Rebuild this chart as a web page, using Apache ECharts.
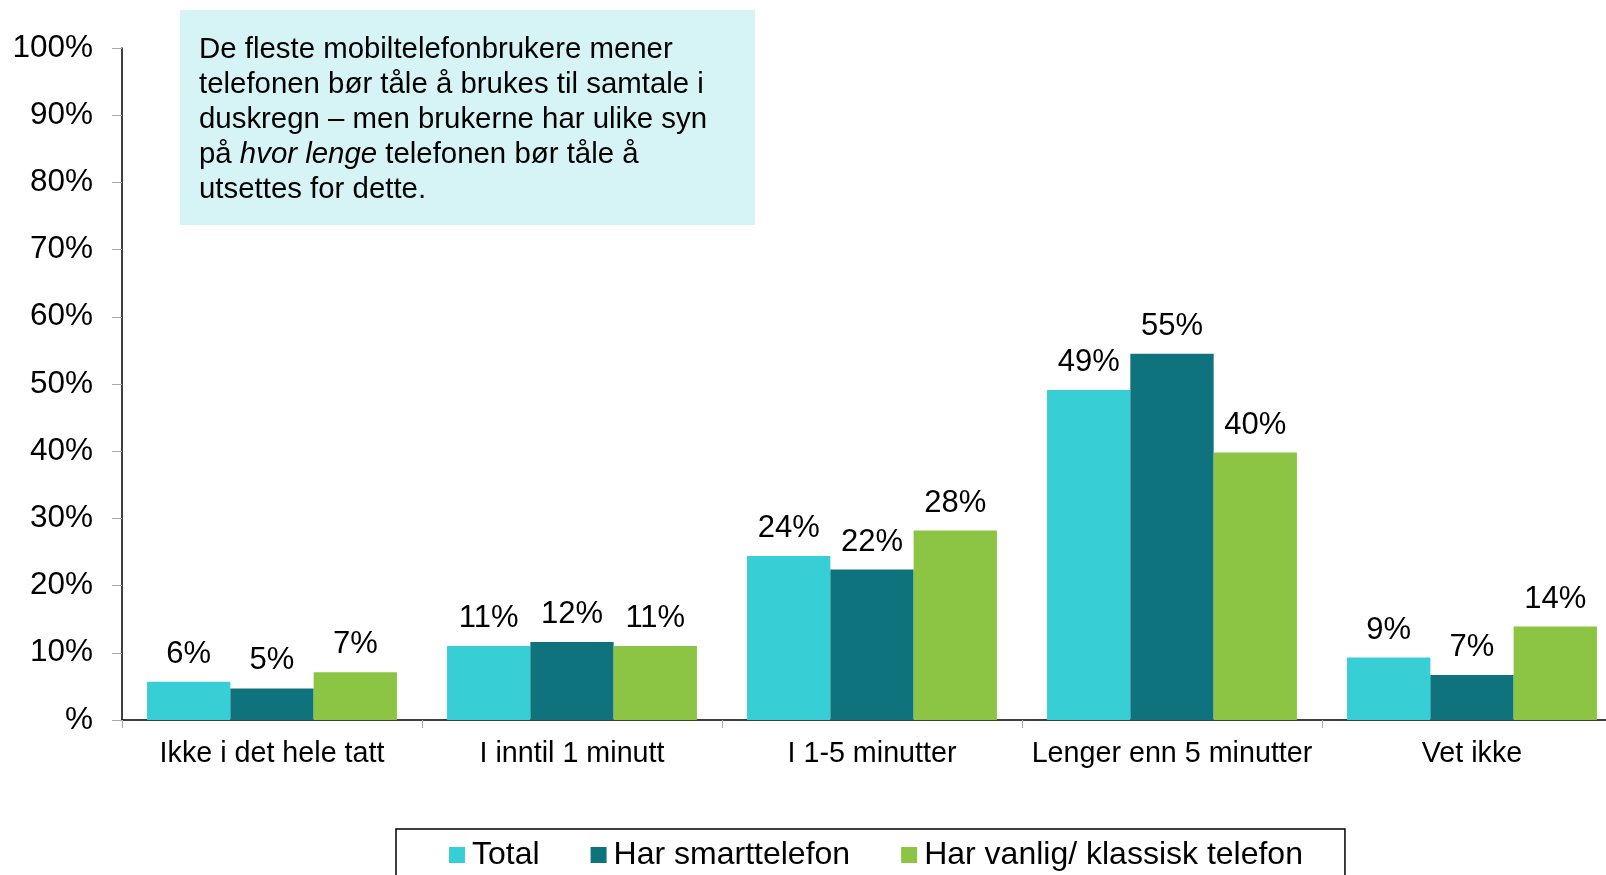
<!DOCTYPE html>
<html>
<head>
<meta charset="utf-8">
<script src="https://cdn.jsdelivr.net/npm/echarts@6/dist/echarts.min.js"></script>
<style>
  html, body { margin: 0; padding: 0; background: #fff; overflow: hidden; }
  #chart { width: 1622px; height: 875px; }
</style>
</head>
<body>
<div id="chart"></div>
<script>
const categories = ['Ikke i det hele tatt', 'I inntil 1 minutt', 'I 1-5 minutter', 'Lenger enn 5 minutter', 'Vet ikke'];
const seriesNames = ['Total', 'Har smarttelefon', 'Har vanlig/ klassisk telefon'];
const totalValues = [5.7, 11.0, 24.4, 49.1, 9.3];
const smartValues = [4.7, 11.6, 22.4, 54.5, 6.7];
const classicValues = [7.1, 11.0, 28.2, 39.8, 13.9];
const colors = ['#38CED6', '#0E737D', '#8BC543'];
const noteText = 'De fleste mobiltelefonbrukere mener\ntelefonen bør tåle å brukes til samtale i\nduskregn – men brukerne har ulike syn\npå {i|hvor lenge} telefonen bør tåle å\nutsettes for dette.';

const font = "'Liberation Sans', Arial, sans-serif";
// chart is a bit wider than the window: the last category runs off the right edge
const chart = echarts.init(document.getElementById('chart'));

const makeSeries = (name, data, color) => ({
  name: name,
  type: 'bar',
  data: data,
  barGap: '0%',
  barCategoryGap: '16.7%',
  itemStyle: { color: color },
  label: {
    show: true,
    position: 'top',
    distance: 12,
    color: '#000',
    fontSize: 31,
    fontFamily: font,
    formatter: p => Math.round(p.value) + '%'
  }
});

const option = {
  animation: false,
  color: colors,
  grid: {
    left: 122,
    right: 0,
    top: 48,
    bottom: 155
  },
  legend: {
    left: 396,
    top: 829,
    icon: 'rect',
    itemWidth: 16,
    itemHeight: 16,
    itemGap: 51,
    padding: [10, 42, 10, 53],
    borderColor: '#000',
    borderWidth: 1.5,
    textStyle: { fontSize: 32, color: '#000', fontFamily: font, padding: [0, 0, 0, 2] },
    data: seriesNames
  },
  xAxis: {
    type: 'category',
    data: categories,
    axisLine: { lineStyle: { color: '#000', width: 1.5 } },
    axisTick: { show: true, length: 8, lineStyle: { color: '#aaa' } },
    axisLabel: { interval: 0, fontSize: 28.7, color: '#000', fontFamily: font, margin: 20 }
  },
  yAxis: {
    type: 'value',
    min: 0,
    max: 100,
    interval: 10,
    axisLine: { show: true, lineStyle: { color: '#000', width: 1.5 } },
    axisTick: { show: true, length: 10, lineStyle: { color: '#aaa' } },
    splitLine: { show: false },
    axisLabel: {
      fontSize: 31.5,
      color: '#000',
      fontFamily: font,
      margin: 29,
      padding: [5, 0, 0, 0],
      formatter: v => (v === 0 ? '%' : v + '%')
    }
  },
  graphic: [{
    type: 'group',
    left: 180,
    top: 10,
    children: [{
      type: 'rect',
      shape: { x: 0, y: 0, width: 575, height: 215 },
      style: { fill: '#D6F4F6' }
    }, {
      type: 'text',
      x: 19,
      y: 22,
      style: {
        text: noteText,
        fill: '#000',
        fontSize: 29.4,
        fontFamily: font,
        lineHeight: 35,
        rich: {
          i: { fontStyle: 'italic', fontSize: 29.4, fontFamily: font, lineHeight: 35 }
        }
      }
    }]
  }],
  series: [
    makeSeries(seriesNames[0], totalValues, colors[0]),
    makeSeries(seriesNames[1], smartValues, colors[1]),
    makeSeries(seriesNames[2], classicValues, colors[2])
  ]
};

chart.setOption(option);
</script>
</body>
</html>
